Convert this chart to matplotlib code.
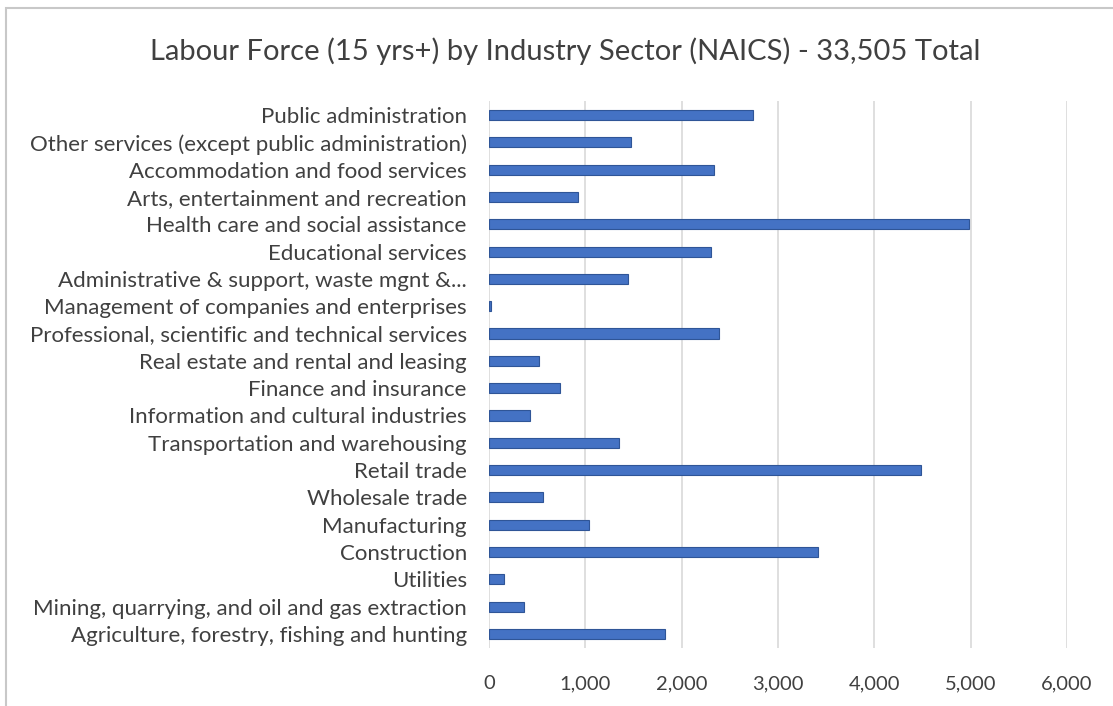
import matplotlib
matplotlib.use("Agg")
from matplotlib import pyplot as plt
from matplotlib.patches import Rectangle
from matplotlib.ticker import FuncFormatter

# sectores (de abajo hacia arriba, como en el grafico)
sectors = [
    "Agriculture, forestry, fishing and hunting",
    "Mining, quarrying, and oil and gas extraction",
    "Utilities",
    "Construction",
    "Manufacturing",
    "Wholesale trade",
    "Retail trade",
    "Transportation and warehousing",
    "Information and cultural industries",
    "Finance and insurance",
    "Real estate and rental and leasing",
    "Professional, scientific and technical services",
    "Management of companies and enterprises",
    "Administrative & support, waste mgnt &...",
    "Educational services",
    "Health care and social assistance",
    "Arts, entertainment and recreation",
    "Accommodation and food services",
    "Other services (except public administration)",
    "Public administration",
]
labour = [1830, 365, 155, 3415, 1040, 565, 4485, 1345, 420, 735,
          520, 2390, 20, 1440, 2305, 4985, 920, 2330, 1475, 2745]
x_ticks = [0, 1000, 2000, 3000, 4000, 5000, 6000]

plt.rcParams['font.family'] = ['Lato', 'DejaVu Sans']

fig = plt.figure(figsize=(11.13, 7.06), dpi=100)
ax = fig.add_axes([0.4394, 0.0826, 0.5193, 0.7739])

ax.barh(range(len(sectors)), labour, height=0.37, color='#4472c4',
        edgecolor='#2f5597', linewidth=0.8, zorder=3)

ax.set_xlim(0, 6000)
ax.set_ylim(-0.5, len(sectors) - 0.5)
ax.set_xticks(x_ticks)
ax.xaxis.set_major_formatter(FuncFormatter(lambda v, p: f"{int(v):,}"))
ax.set_yticks(range(len(sectors)))
ax.set_yticklabels(sectors)
ax.tick_params(axis='both', length=0, colors='#404040')
ax.tick_params(axis='y', pad=16, labelsize=16)
ax.tick_params(axis='x', pad=20, labelsize=14.5)
ax.grid(axis='x', color='#d9d9d9', linewidth=1.2, zorder=0)
for s in ax.spines.values():
    s.set_visible(False)

fig.text(0.508, 0.928, "Labour Force (15 yrs+) by Industry Sector (NAICS) - 33,505 Total",
         ha='center', va='center', fontsize=21, color='#404040')

# marco del grafico
fig.patches.append(Rectangle((0.005, -0.01), 1.2, 0.998, transform=fig.transFigure,
                             fill=False, edgecolor='#c8c8c8', linewidth=1.5))

fig.savefig("out.png", dpi=100)
